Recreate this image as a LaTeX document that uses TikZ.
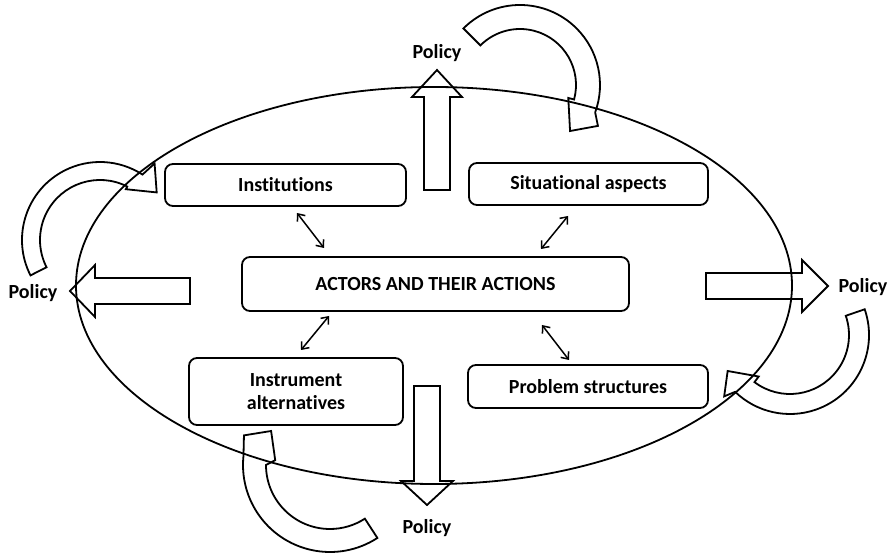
\documentclass[tikz,border=0pt]{standalone}
\usepackage{fontspec}
\setmainfont{Carlito}[Ligatures=NoCommon]
\usetikzlibrary{arrows.meta}
\begin{document}
\begin{tikzpicture}[x=1pt,y=1pt,
  outline/.style={line width=1.8pt},
  box/.style={draw, line width=1.8pt, rounded corners=8pt, inner sep=0pt,
    align=center, font=\fontsize{20}{23}\selectfont\bfseries},
  lbl/.style={font=\fontsize{20}{23}\selectfont\bfseries, inner sep=0pt},
  link/.style={line width=1.5pt,
    {Straight Barb[length=6pt,width=10pt]}-{Straight Barb[length=6pt,width=10pt]}},
  blockarrow/.style={draw, line width=1.8pt, line join=miter, fill=none}]
\useasboundingbox (0,0) rectangle (892,554);

% surrounding ellipse
\coordinate (hub) at (434,268.5);
\draw[outline] (hub) ellipse [x radius=358pt, y radius=198.5pt];

% boxes
\node[box, minimum width=241pt, minimum height=42pt] (inst)  at (285.5,369) {Institutions};
\node[box, minimum width=239pt, minimum height=42pt] (sit)   at (588.5,370) {Situational aspects};
\node[box, minimum width=387pt, minimum height=54pt] (act)   at (435.5,270) {ACTORS AND THEIR ACTIONS};
\node[box, minimum width=214pt, minimum height=67pt] (instr) at (296,162.5) {Instrument\\alternatives};
\node[box, minimum width=240pt, minimum height=43pt] (prob)  at (588,167.5) {Problem structures};

% two-way links between the boxes
\coordinate (instA)  at (297,341); \coordinate (instB)  at (324,306);
\coordinate (sitA)   at (568,338); \coordinate (sitB)   at (541,305);
\coordinate (instrA) at (329,238); \coordinate (instrB) at (301,204);
\coordinate (probA)  at (542,229); \coordinate (probB)  at (569,194);
\draw[link] (instA) -- (instB);
\draw[link] (sitA) -- (sitB);
\draw[link] (instrA) -- (instrB);
\draw[link] (probA) -- (probB);

% Policy labels
\node[lbl] (pTop)    at (437,501) {Policy};
\node[lbl] (pLeft)   at (33,261)  {Policy};
\node[lbl] (pRight)  at (863,267) {Policy};
\node[lbl] (pBottom) at (427,26)  {Policy};

% straight block arrows
\draw[blockarrow] (424,364) -- (424,457) -- (412,457) -- (437,484) -- (462,457) -- (450,457) -- (450,364) -- cycle;
\draw[blockarrow] (190,276) -- (95,276) -- (95,289) -- (70,263) -- (95,237) -- (95,250) -- (190,250) -- cycle;
\draw[blockarrow] (706,281) -- (802,281) -- (802,294) -- (828,268) -- (802,242) -- (802,255) -- (706,255) -- cycle;
\draw[blockarrow] (414,168) -- (414,73) -- (401,73) -- (427,49) -- (453,73) -- (440,73) -- (440,168) -- cycle;

% curved block arrows
\coordinate (c1) at (520,469);
\coordinate (c2) at (100,314);
\coordinate (c3) at (790,219);
\coordinate (c4) at (330,89);

\draw[blockarrow] ([shift={(135:80pt)}]c1) arc[start angle=135, end angle=-20, radius=80pt]
  -- ([shift={(-27.7:88pt)}]c1) -- ([shift={(-42.6:68pt)}]c1)
  -- ([shift={(-15:50pt)}]c1) -- ([shift={(-15:56pt)}]c1)
  arc[start angle=-15, end angle=135, radius=56pt] -- cycle;

\draw[blockarrow] ([shift={(207:78pt)}]c2) arc[start angle=207, end angle=57, radius=78pt]
  -- ([shift={(54.5:94pt)}]c2) -- ([shift={(40:74pt)}]c2)
  -- ([shift={(63:57pt)}]c2) -- ([shift={(63:60pt)}]c2)
  arc[start angle=63, end angle=207, radius=60pt] -- cycle;

\draw[blockarrow] ([shift={(19:79pt)}]c3) arc[start angle=19, end angle=-134, radius=79pt]
  -- ([shift={(-137:90pt)}]c3) -- ([shift={(-150:72pt)}]c3)
  -- ([shift={(-127:52pt)}]c3) -- ([shift={(-127:59pt)}]c3)
  arc[start angle=-127, end angle=19, radius=59pt] -- cycle;

\draw[blockarrow] ([shift={(-57:87pt)}]c4) arc[start angle=-57, end angle=-186, radius=87pt]
  -- ([shift={(161:91pt)}]c4) -- ([shift={(150:68pt)}]c4)
  -- ([shift={(175:55pt)}]c4) -- ([shift={(180:64pt)}]c4)
  arc[start angle=-180, end angle=-57, radius=64pt] -- cycle;
\end{tikzpicture}
\end{document}
